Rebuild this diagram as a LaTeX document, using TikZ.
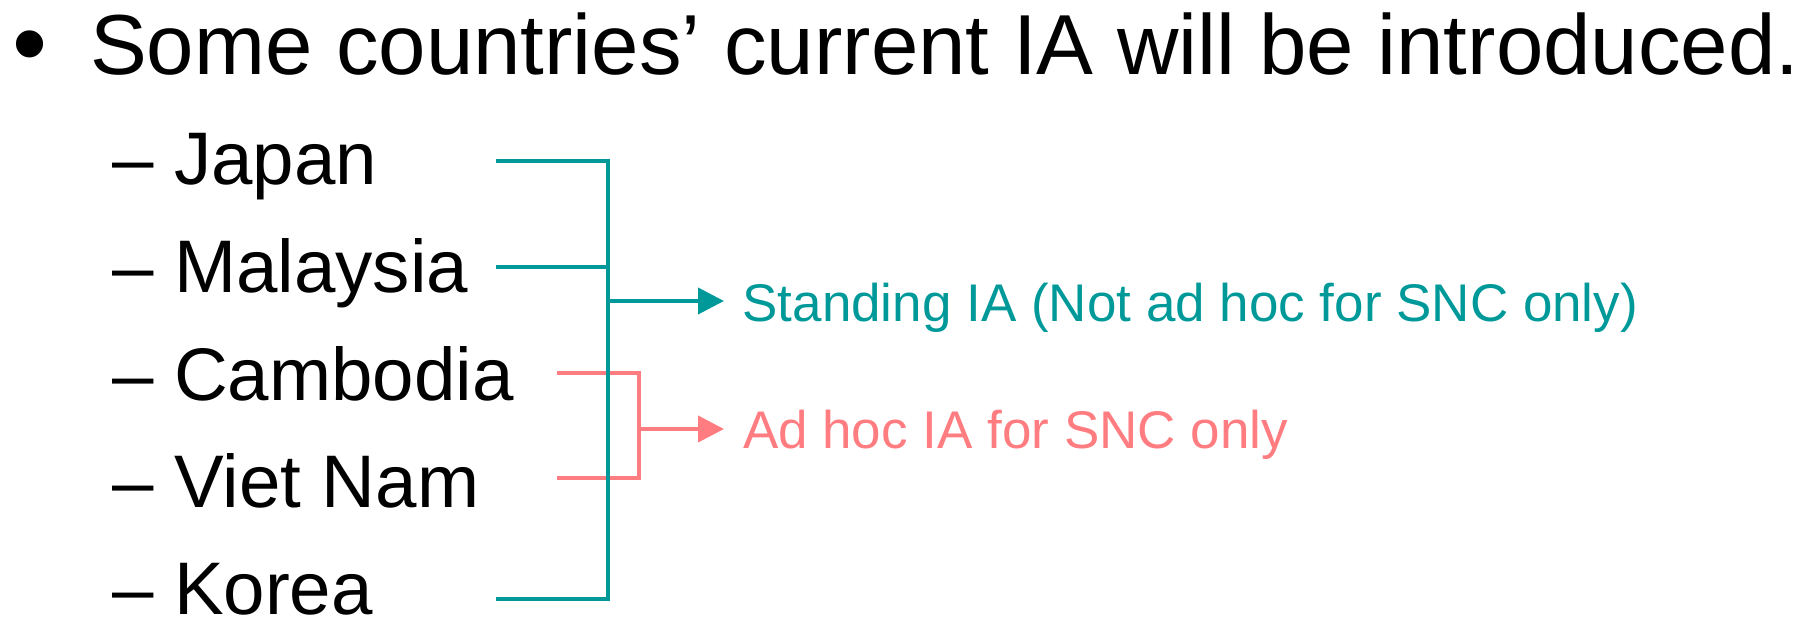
\documentclass[tikz,border=0pt]{standalone}
\usepackage{fontspec}
\setmainfont{Liberation Sans}
\usetikzlibrary{arrows.meta}
\definecolor{teal}{RGB}{0,153,153}
\definecolor{pinkc}{RGB}{255,124,128}
\begin{document}
\begin{tikzpicture}[x=1pt,y=-1pt,
  txt/.style={inner sep=0pt,outer sep=0pt,anchor=base west},
  titletxt/.style={txt,font=\fontsize{85.2}{100}\selectfont},
  bullettxt/.style={txt,font=\fontsize{100}{110}\selectfont},
  itemtxt/.style={txt,font=\fontsize{74.5}{88}\selectfont},
  labeltxt/.style={txt,font=\fontsize{53}{64}\selectfont},
  conn/.style={line width=4pt,line join=miter,line cap=butt},
  arr/.style={line width=4pt,-{Triangle[length=26pt,width=26pt]}}
]
\useasboundingbox (0,0) rectangle (1810,617);
% title
\node[bullettxt] (bul) at (12.5,78) {•};
\node[titletxt] (title) at (90,75) {Some countries’ current IA will be introduced.};
% items
\node[itemtxt] (jp) at (112,185) {– Japan};
\node[itemtxt] (my) at (112,293) {– Malaysia};
\node[itemtxt] (kh) at (112,401) {– Cambodia};
\node[itemtxt] (vn) at (112,507) {– Viet Nam};
\node[itemtxt] (kr) at (112,614) {– Korea};
% labels
\node[labeltxt,text=teal] (std) at (742.5,322) {Standing IA (Not ad hoc for SNC only)};
\node[labeltxt,text=pinkc] (adh) at (743,449) {Ad hoc IA for SNC only};
% connector coordinates
\coordinate (jpE) at (496,161);
\coordinate (myE) at (496,267);
\coordinate (krE) at (496,599);
\coordinate (tTop) at (608,161);
\coordinate (tMy) at (608,267);
\coordinate (tBot) at (608,599);
\coordinate (tMid) at (608,301);
\coordinate (tTip) at (724,301);
\coordinate (khE) at (557,373);
\coordinate (vnE) at (557,478);
\coordinate (pTop) at (639,373);
\coordinate (pBot) at (639,478);
\coordinate (pMid) at (639,429);
\coordinate (pTip) at (724,429);
% pink bracket
\draw[conn,pinkc] (khE) -- (pTop) -- (pBot) -- (vnE);
\draw[arr,pinkc] (pMid) -- (pTip);
% teal bracket
\draw[conn,teal] (jpE) -- (tTop) -- (tBot) -- (krE);
\draw[conn,teal] (myE) -- (tMy);
\draw[arr,teal] (tMid) -- (tTip);
\end{tikzpicture}
\end{document}
